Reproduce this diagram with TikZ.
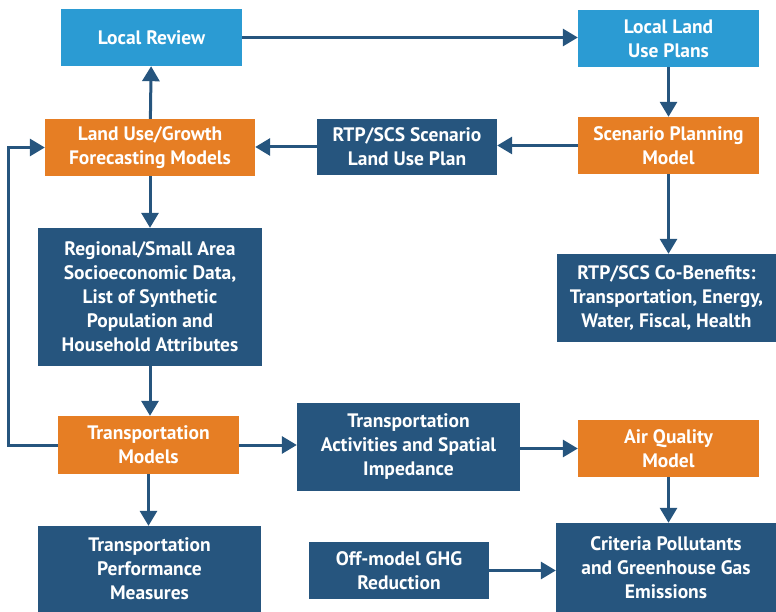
\documentclass[tikz,border=0pt]{standalone}
\usepackage{fontspec}
\setmainfont{PT Sans}
\usetikzlibrary{arrows.meta}
\definecolor{lblue}{HTML}{2B9BD3}
\definecolor{orng}{HTML}{E67E24}
\definecolor{dblue}{HTML}{26557E}
\tikzset{
  box/.style={rectangle, inner sep=0pt, align=center, text=white, font=\fontsize{19.5}{24}\selectfont\bfseries},
  lb/.style={box, fill=lblue},
  ob/.style={box, fill=orng},
  db/.style={box, fill=dblue},
  arr/.style={draw=dblue, line width=3pt, -{Triangle[width=17pt,length=15pt]}},
  ln/.style={draw=dblue, line width=3pt}
}
\newcommand{\bx}[7]{% style, name, x1, y1, x2, y2, text
  \node[#1, minimum width={#5-#3}, minimum height={#6-#4}] (#2) at ({(#3+#5)/2},{-(#4+#6)/2}) {#7};}
\begin{document}
\begin{tikzpicture}[x=1pt,y=1pt]
\useasboundingbox (0,0) rectangle (776,-612);
\bx{lb}{lr}{61}{9}{242}{66}{Local Review}
\bx{lb}{llu}{578}{10}{759}{67}{Local Land\\Use Plans}
\bx{ob}{lug}{45}{119}{255}{176}{Land Use/Growth\\Forecasting Models}
\bx{db}{rtp}{317}{119}{497}{175}{RTP/SCS Scenario\\Land Use Plan}
\bx{ob}{spm}{578}{117}{759}{174}{Scenario Planning\\Model}
\bx{db}{reg}{38}{228}{262}{366}{Regional/Small Area\\Socioeconomic Data,\\List of Synthetic\\Population and\\Household Attributes}
\bx{db}{cob}{557}{254}{776}{342}{RTP/SCS Co-Benefits:\\Transportation, Energy,\\Water, Fiscal, Health}
\bx{ob}{tm}{58}{416}{239}{474}{Transportation\\Models}
\bx{db}{ta}{297}{403}{520}{491}{Transportation\\Activities and Spatial\\Impedance}
\bx{ob}{aq}{578}{420}{759}{477}{Air Quality\\Model}
\bx{db}{tpm}{38}{526}{261}{612}{Transportation\\Performance\\Measures}
\bx{db}{off}{309}{542}{489}{599}{Off-model GHG\\Reduction}
\bx{db}{crit}{556}{523}{776}{612}{Criteria Pollutants\\and Greenhouse Gas\\Emissions}
\coordinate (c1) at (8,-445);
\coordinate (c2) at (8,-147.5);
\draw[arr] (lr.east) -- (lr.east -| llu.west);
\draw[arr] (llu) -- (spm);
\draw[arr] (spm.west) -- (spm.west -| rtp.east);
\draw[arr] (rtp.west) -- (rtp.west -| lug.east);
\draw[arr] (lug) -- (lr);
\draw[arr] (lug) -- (reg);
\draw[arr] (spm) -- (spm |- cob.north);
\draw[arr] (reg) -- (reg |- tm.north);
\draw[arr] (tm.west) -- (c1) -- (c2) -- (lug.west);
\draw[arr] (tm.east) -- (tm.east -| ta.west);
\draw[arr] (ta.east |- aq.west) -- (aq.west);
\draw[arr] (aq) -- (aq |- crit.north);
\draw[arr] (tm) -- (tm |- tpm.north);
\draw[arr] (off.east) -- (off.east -| crit.west);
\end{tikzpicture}
\end{document}
